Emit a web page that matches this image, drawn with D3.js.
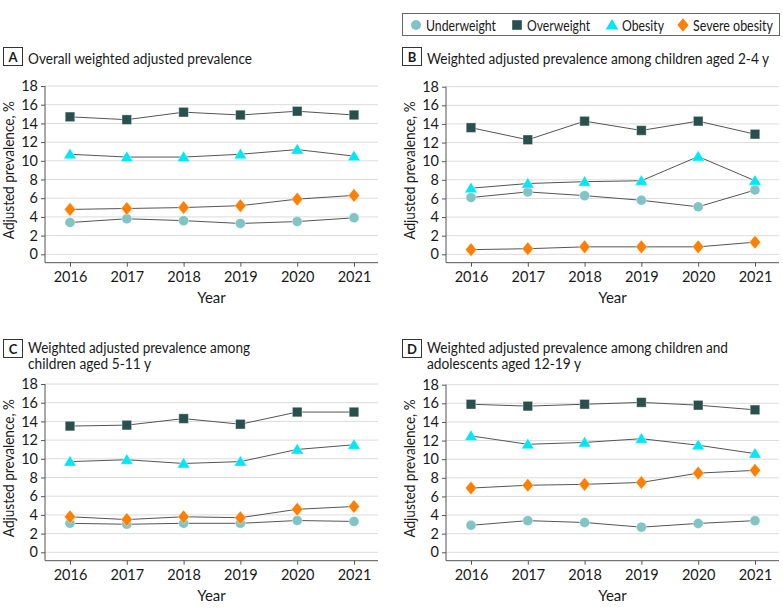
<!DOCTYPE html>
<html><head><meta charset="utf-8">
<script src="https://cdn.jsdelivr.net/npm/d3@7"></script>
<style>
body{margin:0;background:#fff;}
text{font-family:Lato, "Open Sans", sans-serif;fill:#1a1a1a;}
</style></head>
<body><svg id="c" width="783" height="616"></svg>
<script>
const years = [2016, 2017, 2018, 2019, 2020, 2021];
const seriesNames = ["Underweight", "Overweight", "Obesity", "Severe obesity"];
const yTicks = [0, 2, 4, 6, 8, 10, 12, 14, 16, 18];

const panelLetters = ["A", "B", "C", "D"];
const panelTitles = [
  ["Overall weighted adjusted prevalence"],
  ["Weighted adjusted prevalence among children aged 2-4 y"],
  ["Weighted adjusted prevalence among", "children aged 5-11 y"],
  ["Weighted adjusted prevalence among children and", "adolescents aged 12-19 y"]
];

// values per panel: Underweight, Overweight, Obesity, Severe obesity
const underweightA = [3.4, 3.8, 3.6, 3.3, 3.5, 3.9];
const overweightA  = [14.7, 14.4, 15.2, 14.9, 15.3, 14.9];
const obesityA     = [10.7, 10.4, 10.4, 10.7, 11.2, 10.5];
const severeA      = [4.8, 4.9, 5.0, 5.2, 5.9, 6.3];

const underweightB = [6.1, 6.7, 6.3, 5.8, 5.1, 6.9];
const overweightB  = [13.6, 12.3, 14.3, 13.3, 14.3, 12.9];
const obesityB     = [7.1, 7.6, 7.8, 7.9, 10.5, 7.9];
const severeB      = [0.5, 0.6, 0.8, 0.8, 0.8, 1.3];

const underweightC = [3.1, 3.0, 3.1, 3.1, 3.4, 3.3];
const overweightC  = [13.5, 13.6, 14.3, 13.7, 15.0, 15.0];
const obesityC     = [9.7, 9.9, 9.5, 9.7, 11.0, 11.5];
const severeC      = [3.8, 3.5, 3.8, 3.7, 4.6, 4.9];

const underweightD = [2.9, 3.4, 3.2, 2.7, 3.1, 3.4];
const overweightD  = [15.9, 15.7, 15.9, 16.1, 15.8, 15.3];
const obesityD     = [12.5, 11.6, 11.8, 12.2, 11.5, 10.6];
const severeD      = [6.9, 7.2, 7.3, 7.5, 8.5, 8.8];

const panelData = [
  [underweightA, overweightA, obesityA, severeA],
  [underweightB, overweightB, obesityB, severeB],
  [underweightC, overweightC, obesityC, severeC],
  [underweightD, overweightD, obesityD, severeD]
];

const colors = ["#80c5c6", "#28504f", "#00e8f5", "#ff7f00"];

// custom symbol shapes
const circleSym = {draw(ctx){ ctx.moveTo(5,0); ctx.arc(0,0,5,0,2*Math.PI); }};
const squareSym = {draw(ctx){ ctx.rect(-4.8,-4.8,9.6,9.6); }};
const triSym = {draw(ctx){ ctx.moveTo(0,-6); ctx.lineTo(6.3,4.5); ctx.lineTo(-6.3,4.5); ctx.closePath(); }};
const diaSym = {draw(ctx){ ctx.moveTo(0,-6.8); ctx.lineTo(5.6,0); ctx.lineTo(0,6.8); ctx.lineTo(-5.6,0); ctx.closePath(); }};
const shapes = [circleSym, squareSym, triSym, diaSym];

const svg = d3.select("#c");

// legend
const lg = svg.append("g");
lg.append("rect").attr("x", 402.5).attr("y", 13.5).attr("width", 377).attr("height", 22)
  .attr("fill", "#fff").attr("stroke", "#666").attr("stroke-width", 1);
const legX = [416, 517, 612, 683];
const legW = [70, 63, 42, 80];
seriesNames.forEach((n, i) => {
  const g = lg.append("g").attr("transform", `translate(${legX[i]},25)`);
  g.append("path").attr("d", d3.symbol().type(shapes[i])()).attr("fill", colors[i]);
  g.append("text").attr("x", 10).attr("y", 5.5).attr("font-size", 15)
    .attr("textLength", legW[i]).attr("lengthAdjust", "spacingAndGlyphs").text(n);
});

const titleW = [[224], [342], [222, 123], [301, 154]];

const panels = [
  {ox: 0, oy: 0, left: 45, right: 378, y18: 86, y0: 254.3, bottom: 262.7, titleY: 59, boxY: 47},
  {ox: 390, oy: 0, left: 56, right: 389, y18: 86.7, y0: 254.3, bottom: 262.7, titleY: 59, boxY: 47},
  {ox: 0, oy: 310, left: 45, right: 378, y18: 74, y0: 242.3, bottom: 250.7, titleY: 38, boxY: 29},
  {ox: 390, oy: 310, left: 56, right: 389, y18: 74.7, y0: 242.3, bottom: 250.7, titleY: 38, boxY: 29}
];

panels.forEach((p, pi) => {
  const g = svg.append("g").attr("transform", `translate(${p.ox},${p.oy})`);
  const x = d3.scalePoint().domain(years).range([p.left + 25, p.right - 24]);
  const y = d3.scaleLinear().domain([0, 18]).range([p.y0, p.y18]);

  // label box
  const bx = pi % 2 === 0 ? 3 : 12;
  g.append("rect").attr("x", bx + 0.5).attr("y", p.boxY + 0.5).attr("width", 19).attr("height", 18)
    .attr("fill", "#fff").attr("stroke", "#333").attr("stroke-width", 1);
  g.append("text").attr("x", bx + 10).attr("y", p.boxY + 14.5).attr("text-anchor", "middle")
    .attr("font-size", 13).attr("font-weight", "bold").text(panelLetters[pi]);
  panelTitles[pi].forEach((t, li) => {
    g.append("text").attr("x", bx + 25).attr("y", p.titleY + 5 + li * 16)
      .attr("font-size", 15.5).attr("textLength", titleW[pi][li])
      .attr("lengthAdjust", "spacingAndGlyphs").text(t);
  });

  // grid
  g.append("g").selectAll("line").data(yTicks).join("line")
    .attr("x1", p.left).attr("x2", p.right)
    .attr("y1", d => y(d)).attr("y2", d => y(d))
    .attr("stroke", "#dcdcdc").attr("stroke-width", 1);

  // y axis
  const ya = g.append("g").attr("transform", `translate(${p.left},0)`)
    .call(d3.axisLeft(y).tickValues(yTicks).tickSize(4).tickPadding(3).tickSizeOuter(0));
  ya.select(".domain").attr("d", `M0,${p.y18}V${p.bottom}`).attr("stroke", "#555");
  ya.selectAll(".tick line").attr("stroke", "#555");
  ya.selectAll(".tick text").attr("font-size", 14.5).attr("font-family", "Lato, sans-serif").attr("fill", "#1a1a1a");

  // x axis
  const xa = g.append("g").attr("transform", `translate(0,${p.bottom})`)
    .call(d3.axisBottom(x).tickSize(4).tickPadding(5).tickSizeOuter(0));
  xa.select(".domain").attr("d", `M${p.left},0H${p.right}`).attr("stroke", "#555");
  xa.selectAll(".tick line").attr("stroke", "#555");
  xa.selectAll(".tick text").attr("font-size", 14.5).attr("font-family", "Lato, sans-serif").attr("fill", "#1a1a1a");

  g.append("text").attr("x", (p.left + p.right) / 2).attr("y", p.bottom + 40)
    .attr("text-anchor", "middle").attr("font-size", 15).text("Year");
  g.append("text").attr("transform", `translate(${p.left - 31},${(p.y18 + p.y0) / 2}) rotate(-90)`)
    .attr("text-anchor", "middle").attr("font-size", 15.5)
    .attr("textLength", 138).attr("lengthAdjust", "spacingAndGlyphs").text("Adjusted prevalence, %");

  const line = d3.line().x((d, i) => x(years[i])).y(d => y(d));
  const order = [0, 3, 2, 1];
  order.forEach(si => {
    g.append("path").datum(panelData[pi][si]).attr("d", line)
      .attr("fill", "none").attr("stroke", "#555").attr("stroke-width", 1);
  });
  order.forEach(si => {
    g.append("g").selectAll("path").data(panelData[pi][si]).join("path")
      .attr("d", d3.symbol().type(shapes[si])())
      .attr("transform", (d, i) => `translate(${x(years[i])},${y(d)})`)
      .attr("fill", colors[si]).attr("stroke", "#fff").attr("stroke-width", 0.4);
  });
});
</script></body></html>
